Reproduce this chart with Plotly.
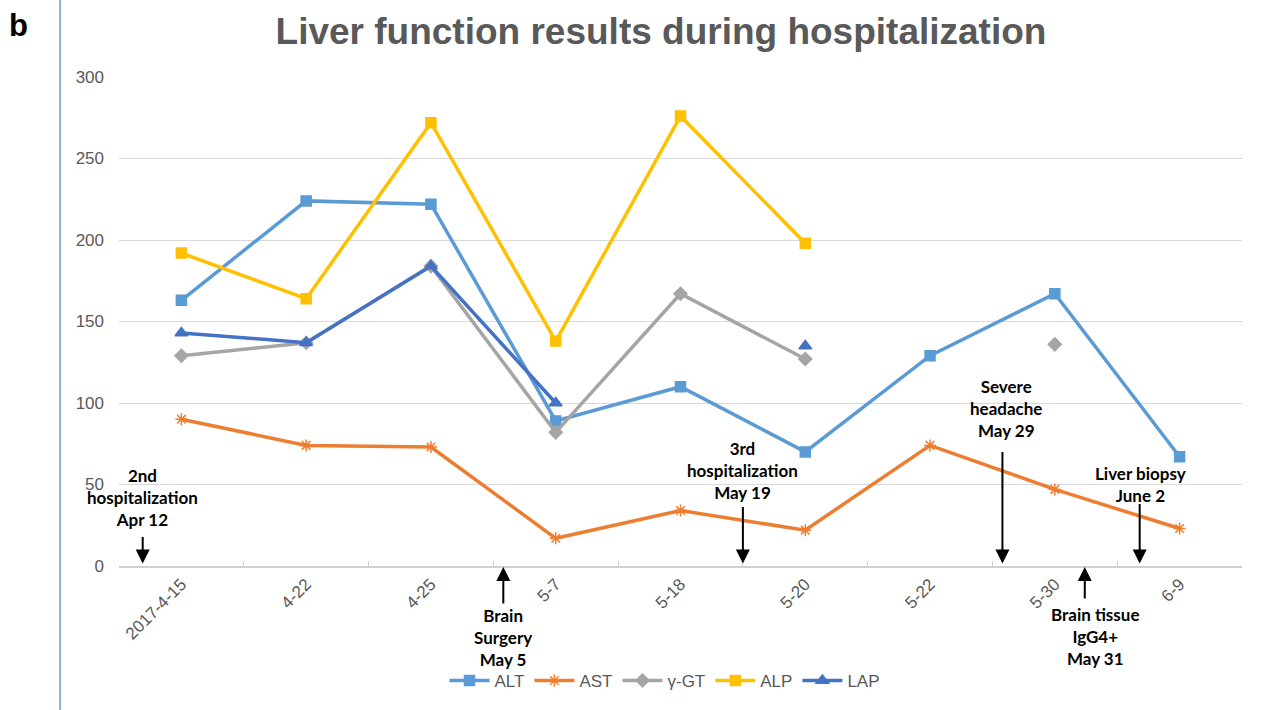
import plotly.graph_objects as go

categories = ["2017-4-15", "4-22", "4-25", "5-7", "5-18", "5-20", "5-22", "5-30", "6-9"]
alt = [163, 224, 222, 89, 110, 70, 129, 167, 67]
ast = [90, 74, 73, 17, 34, 22, 74, 47, 23]
ggt = [129, 137, 184, 82, 167, 127, None, 136, None]
alp = [192, 164, 272, 138, 276, 198, None, None, None]
lap = [143, 137, 184, 100, None, 135, None, None, None]

event_texts = ["2nd<br>hospitalization<br>Apr 12", "Brain<br>Surgery<br>May 5",
               "3rd<br>hospitalization<br>May 19", "Severe<br>headache<br>May 29",
               "Brain tissue<br>IgG4+<br>May 31", "Liver biopsy<br>June 2"]
event_pos = [-0.31, 2.58, 4.5, 6.58, 7.24, 7.68]
event_dir = ["down", "up", "down", "down", "up", "down"]
event_arrow_len = [28, 38, 58, 113, 33, 61]
event_text_dx = [0, 0, 0, 4, 10, 1]
event_text_dy = [3, 0, 0, 7, -4, -6]

series = [
    ("ALT", alt, "#5B9BD5", "square", 10),
    ("AST", ast, "#ED7D31", "asterisk-open", 10),
    ("γ-GT", ggt, "#A5A5A5", "diamond", 10),
    ("ALP", alp, "#FFC000", "square", 10),
    ("LAP", lap, "#4472C4", "triangle-up", 11),
]

W, H = 1263, 710
L, R, T, B = 119, 21, 77, 144
PW, PH = W - L - R, H - T - B

fig = go.Figure()
for name, vals, color, sym, size in series:
    fig.add_trace(go.Scatter(
        x=categories, y=vals, name=name, mode="lines+markers",
        line=dict(color=color, width=3.5),
        marker=dict(symbol=sym, size=size, color=color,
                    line=dict(color=color, width=1.5)),
        connectgaps=False,
    ))

afont = dict(family="Lato", size=17, color="black")
for txt, xp, d, ln, dx, dy in zip(event_texts, event_pos, event_dir, event_arrow_len,
                                  event_text_dx, event_text_dy):
    if d == "down":
        fig.add_annotation(x=xp, y=1.5, xref="x", yref="y", ax=0, ay=-ln,
                           text="", showarrow=True, arrowhead=2, arrowsize=1.4,
                           arrowwidth=2, arrowcolor="black")
        fig.add_annotation(x=xp, y=1.5, xref="x", yref="y",
                           text="<b>" + txt + "</b>", showarrow=False,
                           yanchor="bottom", yshift=ln + 1 + dy, xshift=dx,
                           font=afont, align="center")
    else:
        fig.add_annotation(x=xp, y=-1 / PH, xref="x", yref="paper", ax=0, ay=ln,
                           text="", showarrow=True, arrowhead=2, arrowsize=1.4,
                           arrowwidth=2, arrowcolor="black")
        fig.add_annotation(x=xp, y=-1 / PH, xref="x", yref="paper",
                           text="<b>" + txt + "</b>", showarrow=False,
                           yanchor="top", yshift=-(ln - 2) + dy, xshift=dx,
                           font=afont, align="center")

fig.add_annotation(x=(18 - L) / PW, y=1 + (T - 25) / PH, xref="paper", yref="paper",
                   text="<b>b</b>", showarrow=False, xanchor="center", yanchor="middle",
                   font=dict(family="Liberation Sans", size=31, color="black"))
fig.add_shape(type="line", xref="paper", yref="paper",
              x0=(60 - L) / PW, x1=(60 - L) / PW,
              y0=-B / PH, y1=(H - B) / PH,
              line=dict(color="#5B9BD5", width=1.5))

fig.update_layout(
    width=W, height=H,
    paper_bgcolor="white", plot_bgcolor="white",
    margin=dict(l=L, r=R, t=T, b=B),
    title=dict(text="<b>Liver function results during hospitalization</b>",
               x=661 / W, xanchor="center", y=1 - 31 / H, yanchor="middle",
               font=dict(family="Liberation Sans", size=37, color="#595959")),
    legend=dict(orientation="h", x=665 / W, xanchor="center", xref="container",
                y=1 - 681 / H, yref="container", yanchor="middle",
                itemwidth=40,
                font=dict(family="Liberation Sans", size=17, color="#595959")),
    showlegend=True,
)

fig.update_xaxes(type="category", range=[-0.5, 8.5], tickson="boundaries",
                 ticks="inside", ticklen=5, tickcolor="#d0d0d0",
                 showline=True, linecolor="#d0d0d0", linewidth=1.5,
                 showgrid=False, tickangle=-45,
                 tickfont=dict(family="Liberation Sans", size=17, color="#595959"))
fig.update_yaxes(range=[0, 300], dtick=50, showgrid=True, gridcolor="#d9d9d9",
                 gridwidth=1, zeroline=False, showline=False,
                 ticklabelstandoff=14,
                 tickfont=dict(family="Liberation Sans", size=17, color="#595959"))

fig.write_html("out.html", config={"displayModeBar": False},
               post_script="document.body.style.margin='0';")
